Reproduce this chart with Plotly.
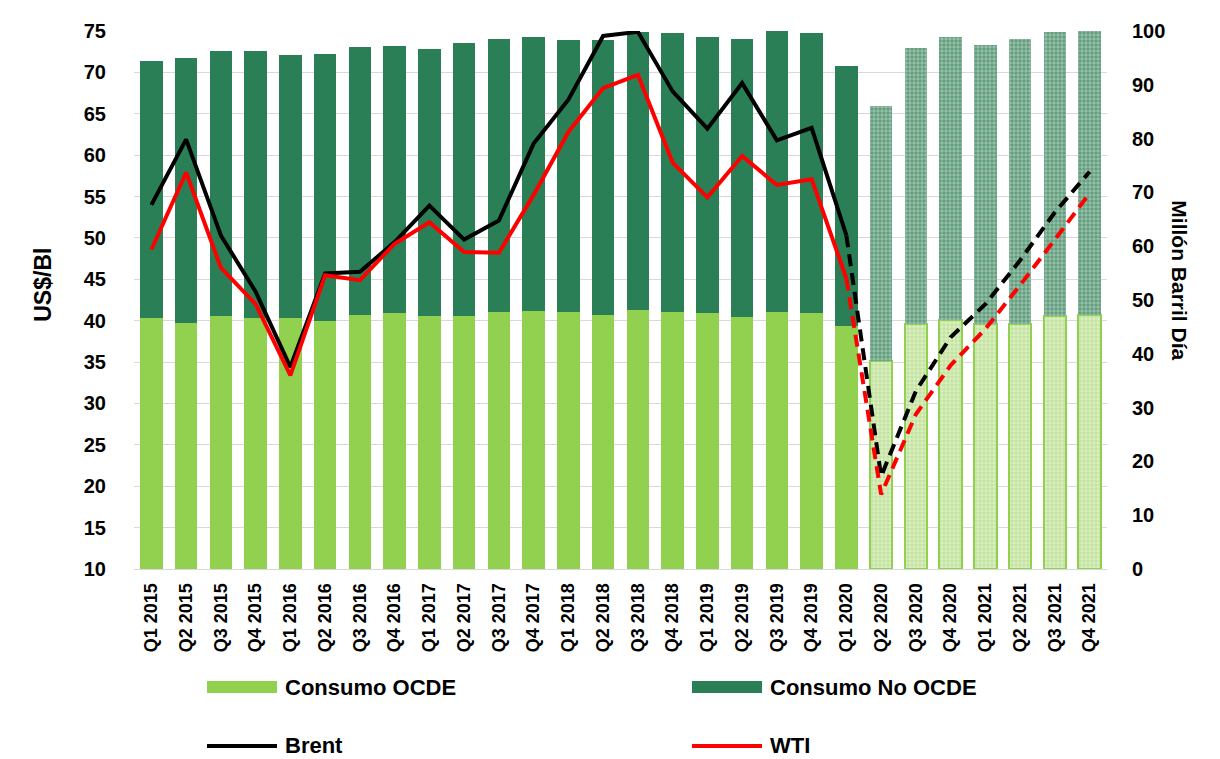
import plotly.graph_objects as go

# ---------------- data ----------------
quarters = ["Q1 2015", "Q2 2015", "Q3 2015", "Q4 2015",
            "Q1 2016", "Q2 2016", "Q3 2016", "Q4 2016",
            "Q1 2017", "Q2 2017", "Q3 2017", "Q4 2017",
            "Q1 2018", "Q2 2018", "Q3 2018", "Q4 2018",
            "Q1 2019", "Q2 2019", "Q3 2019", "Q4 2019",
            "Q1 2020", "Q2 2020", "Q3 2020", "Q4 2020",
            "Q1 2021", "Q2 2021", "Q3 2021", "Q4 2021"]

consumo_ocde = [46.7, 45.7, 47.0, 46.7, 46.7, 46.1, 47.3, 47.5, 47.0, 47.1,
                47.7, 48.0, 47.7, 47.2, 48.1, 47.7, 47.5, 46.8, 47.8, 47.5,
                45.1, 38.7, 45.5, 46.3, 45.5, 45.5, 47.0, 47.2]

consumo_no_ocde = [47.7, 49.2, 49.2, 49.6, 48.9, 49.6, 49.8, 49.7, 49.7, 50.7,
                   50.8, 50.8, 50.6, 51.2, 51.7, 51.9, 51.4, 51.7, 52.5, 52.1,
                   48.4, 47.3, 51.3, 52.5, 51.9, 53.0, 52.9, 52.8]

brent = [54.0, 61.9, 50.3, 43.5, 34.4, 45.7, 45.9, 49.5, 53.9, 49.8,
         52.1, 61.4, 66.7, 74.4, 74.9, 67.7, 63.2, 68.7, 61.8, 63.3,
         50.3, 21.2, 31.5, 38.0, 42.0, 47.3, 53.1, 58.0]

wti = [48.6, 57.9, 46.4, 42.0, 33.4, 45.5, 44.9, 49.3, 51.9, 48.3,
       48.2, 55.2, 62.8, 68.1, 69.7, 59.1, 54.9, 59.9, 56.4, 57.1,
       45.1, 19.0, 28.7, 34.6, 39.0, 44.3, 49.8, 55.4]

n_hist = 21  # Q1 2015 .. Q1 2020 are actual data; later quarters are projections

# ---------------- styles ----------------
OCDE = "#92D050"
NO_OCDE = "#2A7F56"
FONT = "Liberation Sans"

fig = go.Figure()

hist_x = quarters[:n_hist]
proj_x = quarters[n_hist:]

# OCDE bars (bottom of stack)
fig.add_trace(go.Bar(x=hist_x, y=consumo_ocde[:n_hist], name="Consumo OCDE",
                     marker=dict(color=OCDE, line=dict(width=0)),
                     yaxis="y", showlegend=False))
fig.add_trace(go.Bar(x=proj_x, y=consumo_ocde[n_hist:], name="Consumo OCDE",
                     marker=dict(color="#dcefc6",
                                 line=dict(color=OCDE, width=2),
                                 pattern=dict(shape=".", fgcolor="#a9d877",
                                              fillmode="overlay", size=4, solidity=0.55)),
                     yaxis="y", showlegend=False))
# Non-OCDE bars (top of stack)
fig.add_trace(go.Bar(x=hist_x, y=consumo_no_ocde[:n_hist], name="Consumo No OCDE",
                     marker=dict(color=NO_OCDE, line=dict(width=0)),
                     yaxis="y", showlegend=False))
fig.add_trace(go.Bar(x=proj_x, y=consumo_no_ocde[n_hist:], name="Consumo No OCDE",
                     marker=dict(color="#9cc0aa", line=dict(width=0),
                                 pattern=dict(shape=".", fgcolor=NO_OCDE,
                                              fillmode="overlay", size=4, solidity=0.6)),
                     yaxis="y", showlegend=False))

# Price lines (left axis) - solid for history, dashed for projection
for vals, col in ((brent, "#000000"), (wti, "#FF0000")):
    fig.add_trace(go.Scatter(x=quarters[:n_hist], y=vals[:n_hist], mode="lines",
                             line=dict(color=col, width=4), yaxis="y2",
                             showlegend=False))
    fig.add_trace(go.Scatter(x=quarters[n_hist - 1:], y=vals[n_hist - 1:], mode="lines",
                             line=dict(color=col, width=4, dash="12px,7px"),
                             yaxis="y2", showlegend=False))

# ---------------- layout ----------------
OFF = 8  # page body margin in the browser
W, H = 1220 - OFF, 759 - OFF
ML, MR, MT, MB = 134 - OFF, 113, 22 - OFF, 190
pw, ph = W - ML - MR, H - MT - MB


def px(xs):
    """screen x (px) -> paper x"""
    return (xs - OFF - ML) / pw


def py(ys):
    """screen y (px) -> paper y"""
    return (H - MB - (ys - OFF)) / ph


tick_font = dict(family=FONT, size=20, color="#000000", weight="bold")

fig.update_layout(
    width=W, height=H,
    margin=dict(l=ML, r=MR, t=MT, b=MB),
    paper_bgcolor="white", plot_bgcolor="white",
    barmode="stack", bargap=0.35,
    showlegend=False,
    xaxis=dict(type="category", tickangle=-90,
               tickfont=dict(family=FONT, size=18, color="#000000", weight="bold"),
               showgrid=False, showline=True, linecolor="#d9d9d9", linewidth=1,
               ticks="", ticklabelstandoff=6),
    yaxis=dict(side="right", range=[0, 100], dtick=10, showgrid=False,
               zeroline=False, showline=False, ticks="",
               tickfont=tick_font, ticklabelstandoff=24),
    yaxis2=dict(side="left", overlaying="y", range=[10, 75], dtick=5,
                showgrid=True, gridcolor="#d9d9d9", gridwidth=1,
                zeroline=False, showline=False, ticks="",
                tickfont=tick_font, ticklabelstandoff=27),
)

# axis titles
fig.add_annotation(text="US$/Bl", xref="paper", yref="paper", x=px(28), y=py(280),
                   textangle=-90, showarrow=False,
                   font=dict(family=FONT, size=23, color="#000000", weight="bold"))
fig.add_annotation(text="Millón Barril Día", xref="paper", yref="paper", x=px(1193), y=py(275),
                   textangle=90, showarrow=False,
                   font=dict(family=FONT, size=21, color="#000000", weight="bold"))

# custom legend
leg_font = dict(family=FONT, size=22, color="#000000", weight="bold")
legend_items = [
    ("Consumo OCDE", "box", OCDE, 207, 689),
    ("Consumo No OCDE", "box", NO_OCDE, 692, 689),
    ("Brent", "line", "#000000", 207, 748),
    ("WTI", "line", "#FF0000", 692, 748),
]
for label, kind, col, x0, yc in legend_items:
    if kind == "box":
        fig.add_shape(type="rect", xref="paper", yref="paper",
                      x0=px(x0), x1=px(x0 + 70), y0=py(yc + 6), y1=py(yc - 6),
                      fillcolor=col, line=dict(width=0))
    else:
        fig.add_shape(type="line", xref="paper", yref="paper",
                      x0=px(x0), x1=px(x0 + 70), y0=py(yc + 1), y1=py(yc + 1),
                      line=dict(color=col, width=4))
    fig.add_annotation(text=label, xref="paper", yref="paper", x=px(x0 + 77), y=py(yc),
                       xanchor="left", yanchor="middle", showarrow=False, font=leg_font,
                       borderpad=0)

fig.write_html("out.html")
